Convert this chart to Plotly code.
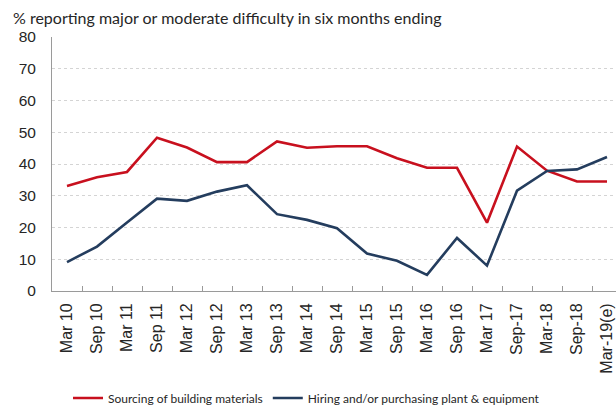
import plotly.graph_objects as go

categories = ["Mar 10", "Sep 10", "Mar 11", "Sep 11", "Mar 12", "Sep 12", "Mar 13", "Sep 13",
              "Mar 14", "Sep 14", "Mar 15", "Sep 15", "Mar 16", "Sep 16", "Mar 17", "Sep-17",
              "Mar-18", "Sep-18", "Mar-19(e)"]
sourcing = [33.1, 35.8, 37.5, 48.3, 45.2, 40.6, 40.6, 47.1, 45.1, 45.6,
            45.6, 41.8, 38.8, 38.8, 21.5, 45.5, 37.9, 34.5, 34.5]
hiring = [9.1, 14.0, 21.6, 29.1, 28.4, 31.3, 33.3, 24.2, 22.4, 19.8,
          11.8, 9.5, 5.1, 16.7, 8.0, 31.6, 37.8, 38.3, 42.2]
yticks = [0, 10, 20, 30, 40, 50, 60, 70, 80]

fig = go.Figure()
fig.add_trace(go.Scatter(x=categories, y=sourcing, mode="lines",
                         name="Sourcing of building materials",
                         line=dict(color="#c8101e", width=2.6)))
fig.add_trace(go.Scatter(x=categories, y=hiring, mode="lines",
                         name="Hiring and/or purchasing plant & equipment",
                         line=dict(color="#243d5e", width=2.6)))

fig.update_layout(
    width=616, height=405,
    margin=dict(l=52, r=0, t=37, b=114, autoexpand=False),
    paper_bgcolor="white", plot_bgcolor="white",
    title=dict(text="% reporting major or moderate difficulty in six months ending",
               x=13/616, xref="container", xanchor="left",
               y=1-18/405, yref="container", yanchor="middle",
               font=dict(family="Lato", size=16, color="#262626")),
    xaxis=dict(type="category", range=[-0.5, 18.3], tickangle=-90, automargin=False,
               tickson="boundaries", ticks="inside", ticklen=5, tickcolor="#9a9a9a",
               ticklabelstandoff=5,
               showline=True, linecolor="#9a9a9a", linewidth=1, showgrid=False,
               tickfont=dict(family="Arial", size=16, color="#262626")),
    yaxis=dict(range=[0, 80], tickvals=yticks, showline=True, linecolor="#9a9a9a",
               linewidth=1, showgrid=True, gridcolor="#d4d4d4", griddash="dot",
               zeroline=False, ticks="", ticklabelstandoff=12, automargin=False,
               tickfont=dict(family="Arial", size=15.5, color="#262626")),
    showlegend=True,
    legend=dict(orientation="h", xref="container", yref="container",
                x=68/616, y=(405-398)/405, xanchor="left", yanchor="middle",
                font=dict(family="Lato", size=12, color="#262626"),
                bgcolor="rgba(0,0,0,0)"),
)

fig.write_html("out.html", config={"displayModeBar": False},
               post_script="document.body.style.margin='0';")
